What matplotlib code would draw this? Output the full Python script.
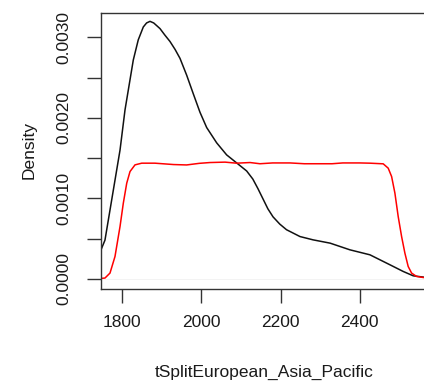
import matplotlib
matplotlib.use('Agg')
import matplotlib.pyplot as plt

plt.rcParams['font.family'] = ['Liberation Sans', 'DejaVu Sans']

# density curves
black_x = [1747, 1757, 1776, 1795, 1807.6, 1828.5, 1841, 1853.7, 1862, 1870.6, 1880,
           1895.8, 1908, 1921, 1934, 1946.3, 1963.2, 1979.8, 1996.7, 2013.6, 2038.8,
           2064, 2089.3, 2114.5, 2130, 2143, 2156, 2168, 2181, 2198, 2215, 2249,
           2282, 2325, 2375, 2425.5, 2476, 2509.5, 2534.7, 2560]
black_y = [0.00036, 0.00048, 0.00104, 0.00160, 0.00210, 0.00272, 0.00297, 0.00313,
           0.00318, 0.00320, 0.00318, 0.00311, 0.00303, 0.00295, 0.00285, 0.00274,
           0.00253, 0.00230, 0.00207, 0.00188, 0.00169, 0.00154, 0.00144, 0.00134,
           0.00124, 0.00112, 0.00099, 0.00087, 0.00077, 0.00068, 0.00061, 0.000525,
           0.000484, 0.000443, 0.00036, 0.000298, 0.000174, 0.000091, 0.000037, 0.000021]

red_x = [1745, 1757, 1769.7, 1782.3, 1795, 1803.3, 1811.9, 1820.2, 1832.8, 1849.7,
         1883, 1930, 1963, 1995, 2022, 2060, 2089, 2123, 2148, 2180, 2224, 2260,
         2299, 2330, 2357, 2400, 2425.5, 2459, 2471.6, 2480.2, 2488.5, 2496.8,
         2505.4, 2513.7, 2522, 2530.6, 2543.2, 2560]
red_y = [0.000004, 0.000009, 0.000071, 0.000277, 0.00065, 0.00094, 0.001188,
         0.001333, 0.001416, 0.001437, 0.001437, 0.00142, 0.001415, 0.001435,
         0.001445, 0.00145, 0.001437, 0.001445, 0.00143, 0.00144, 0.00144, 0.00143,
         0.00143, 0.00143, 0.00144, 0.00144, 0.001437, 0.001429, 0.001375, 0.001271,
         0.001065, 0.000774, 0.000525, 0.000319, 0.000153, 0.000071, 0.000029,
         0.000016]

x_ticks = [1800, 2000, 2200, 2400]
y_ticks = [0.0, 0.0005, 0.0010, 0.0015, 0.0020, 0.0025, 0.0030]
y_labels = ['0.0000', '', '0.0010', '', '0.0020', '', '0.0030']

fig = plt.figure(figsize=(4.24, 3.91), dpi=100)
ax = fig.add_axes([101 / 424, 1 - 289 / 391, 327 / 424, (289 - 12.5) / 391])

ax.axhline(0, color='#eeeeee', lw=0.5)
ax.plot(black_x, black_y, color='#111111', lw=1.1)
ax.plot(red_x, red_y, color='#ff0000', lw=1.1)

ax.set_xlim(1747, 2572)
ax.set_ylim(-0.000127, 0.00331)

ax.set_xticks(x_ticks)
ax.set_xticklabels([str(t) for t in x_ticks])
ax.set_yticks(y_ticks)
ax.set_yticklabels(y_labels, rotation=90, va='center')

ax.tick_params(direction='out', length=10, width=1, color='#333333',
               labelsize=12.5, labelcolor='#1a1a1a')
ax.tick_params(axis='x', pad=9)
ax.tick_params(axis='y', pad=11)

for s in ax.spines.values():
    s.set_color('#333333')
    s.set_linewidth(1)

fig.text(264 / 424, 1 - 372 / 391, 'tSplitEuropean_Asia_Pacific', ha='center', va='center',
         fontsize=12.5, color='#1a1a1a')
fig.text(29 / 424, 1 - 150 / 391, 'Density', ha='center', va='center', rotation=90,
         fontsize=12.5, color='#1a1a1a')

fig.savefig('out.png', dpi=100)
